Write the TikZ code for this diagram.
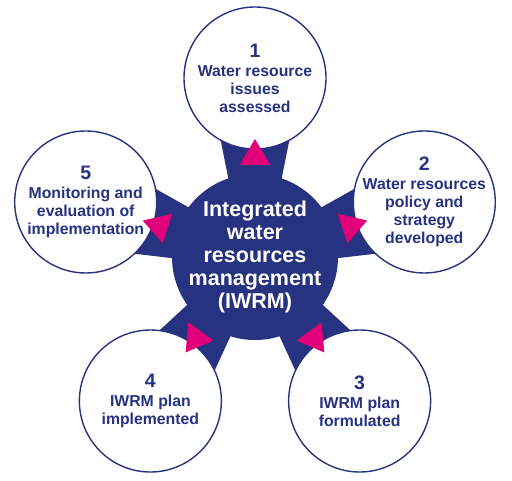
\documentclass[tikz,border=0pt]{standalone}
\usepackage{fontspec}
\setmainfont{Liberation Sans}
\usetikzlibrary{calc,backgrounds}
\definecolor{iwrmblue}{RGB}{39,50,128}
\definecolor{iwrmpink}{RGB}{226,0,122}
\tikzset{
  hub/.style={circle,fill=iwrmblue,text=white,minimum size=166pt,inner sep=-30pt,align=center,font=\fontsize{21.5}{23}\selectfont\bfseries},
  stage/.style={circle,draw=iwrmblue,line width=1.4pt,fill=white,text=iwrmblue,minimum size=142pt,inner sep=-30pt,align=center,font=\fontsize{15.8}{18}\selectfont\bfseries},
  stem/.style={fill=iwrmblue},
  tip/.style={fill=iwrmpink}
}
\newcommand{\stagenum}[1]{{\fontsize{19.5}{20}\selectfont #1}\\[1pt]}
\begin{document}
\begin{tikzpicture}[x=1pt,y=1pt]
\useasboundingbox (0,0) rectangle (512,480);
\node[hub] (hub) at (255,223) {Integrated\\water\\resources\\management\\(IWRM)};
\node[stage] (s1) at ($(hub)+(90:179)$) {\stagenum{1}Water resource\\issues\\assessed};
\node[stage] (s2) at ($(hub)+(18:178)$) {\stagenum{2}Water resources\\policy and\\strategy\\developed};
\node[stage] (s3) at ($(hub)+(-54:178)$) {\stagenum{3}IWRM plan\\formulated};
\node[stage] (s4) at ($(hub)+(-126:178)$) {\stagenum{4}IWRM plan\\implemented};
\node[stage] (s5) at ($(hub)+(162:178)$) {\stagenum{5}Monitoring and\\evaluation of\\implementation};

\begin{pgfonlayer}{background}
\foreach \i in {1,...,5}
  \fill[stem] ($(hub.center)!11pt!90:(s\i.center)$) -- ($(hub.center)!155pt!15.3:(s\i.center)$)
    -- ($(hub.center)!155pt!-15.3:(s\i.center)$) -- ($(hub.center)!11pt!-90:(s\i.center)$) -- cycle;
\end{pgfonlayer}
\foreach \i in {1,...,5}
  \fill[tip] ($(hub.center)!118pt!(s\i.center)$) -- ($(hub.center)!93.3pt!9.56:(s\i.center)$)
    -- ($(hub.center)!93.3pt!-9.56:(s\i.center)$) -- cycle;
\end{tikzpicture}
\end{document}
